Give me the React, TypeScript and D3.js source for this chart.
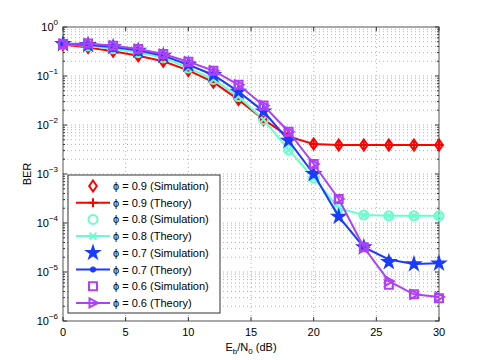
import React from 'react';
import * as d3 from 'd3';

// Eb/N0 in dB
const snr = [0, 2, 4, 6, 8, 10, 12, 14, 16, 18, 20, 22, 24, 26, 28, 30];

// theory curves
const phi09Theory = [0.44, 0.38, 0.32, 0.26, 0.2, 0.13, 0.075, 0.033, 0.013, 0.0058, 0.0041, 0.0039, 0.0039, 0.0039, 0.0039, 0.0039];
const phi08Theory = [0.45, 0.41, 0.36, 0.3, 0.235, 0.145, 0.085, 0.038, 0.013, 0.0031, 0.00083, 0.0002, 0.000145, 0.00014, 0.00014, 0.00014];
const phi07Theory = [0.45, 0.43, 0.39, 0.33, 0.26, 0.17, 0.105, 0.048, 0.019, 0.0048, 0.001, 0.000135, 0.000032, 0.000018, 0.0000145, 0.000015];
const phi06Theory = [0.45, 0.46, 0.415, 0.355, 0.28, 0.196, 0.128, 0.066, 0.025, 0.0073, 0.0016, 0.00031, 0.000032, 0.0000065, 0.0000035, 0.0000031];

// simulation points
const phi09Sim = [0.44, 0.38, 0.32, 0.26, 0.2, 0.13, 0.075, 0.033, 0.013, 0.0058, 0.0041, 0.0039, 0.0039, 0.0039, 0.0039, 0.0039];
const phi08Sim = [0.45, 0.41, 0.36, 0.3, 0.235, 0.145, 0.085, 0.038, 0.013, 0.0031, 0.00083, 0.0002, 0.000145, 0.00014, 0.00014, 0.00014];
const phi07Sim = [0.45, 0.43, 0.39, 0.33, 0.26, 0.17, 0.105, 0.048, 0.019, 0.0048, 0.001, 0.000135, 0.000032, 0.000016, 0.0000145, 0.000015];
const phi06Sim = [0.45, 0.46, 0.415, 0.355, 0.28, 0.196, 0.128, 0.066, 0.025, 0.0073, 0.0016, 0.00031, 0.000032, 0.0000055, 0.0000035, 0.0000029];

const xTicks = [0, 5, 10, 15, 20, 25, 30];
const yExps = [0, -1, -2, -3, -4, -5, -6];

const width = 485;
const height = 360;
const margin = { top: 27, right: 46, bottom: 39, left: 63 };

const red = '#ff0000';
const cyan = '#66ffcc';
const blue = '#1a3cff';
const purple = '#b040f5';

type Mk = 'diamond' | 'plus' | 'circle' | 'x' | 'star' | 'asterisk' | 'square' | 'tri';

const markerPath = (m: Mk) => {
  switch (m) {
    case 'diamond': return 'M0,-5.5L3.8,0L0,5.5L-3.8,0Z';
    case 'plus': return 'M-4.5,0H4.5M0,-4.5V4.5';
    case 'circle': return d3.symbol(d3.symbolCircle, 64)()!;
    case 'x': return 'M-3.5,-3.5L3.5,3.5M-3.5,3.5L3.5,-3.5';
    case 'star': return d3.symbol(d3.symbolStar, 42)()!;
    case 'asterisk': return d3.symbol(d3.symbolAsterisk, 26)()!;
    case 'square': return 'M-4,-4H4V4H-4Z';
    case 'tri': return 'M-3.5,-4.5L5,0L-3.5,4.5Z';
  }
};

const series = [
  { label: 'ϕ = 0.9 (Simulation)', values: phi09Sim, color: red, marker: 'diamond' as Mk, line: false, fill: false },
  { label: 'ϕ = 0.9 (Theory)', values: phi09Theory, color: red, marker: 'plus' as Mk, line: true, fill: false },
  { label: 'ϕ = 0.8 (Simulation)', values: phi08Sim, color: cyan, marker: 'circle' as Mk, line: false, fill: false },
  { label: 'ϕ = 0.8 (Theory)', values: phi08Theory, color: cyan, marker: 'x' as Mk, line: true, fill: false },
  { label: 'ϕ = 0.7 (Simulation)', values: phi07Sim, color: blue, marker: 'star' as Mk, line: false, fill: true },
  { label: 'ϕ = 0.7 (Theory)', values: phi07Theory, color: blue, marker: 'asterisk' as Mk, line: true, fill: false },
  { label: 'ϕ = 0.6 (Simulation)', values: phi06Sim, color: purple, marker: 'square' as Mk, line: false, fill: false },
  { label: 'ϕ = 0.6 (Theory)', values: phi06Theory, color: purple, marker: 'tri' as Mk, line: true, fill: false },
];

const Marker = ({ m, color, fill, x, y }: { m: Mk; color: string; fill: boolean; x: number; y: number }) => (
  <path
    d={markerPath(m)}
    transform={`translate(${x},${y})`}
    fill={fill ? color : 'none'}
    stroke={color}
    strokeWidth={m === 'asterisk' ? 2.5 : 2}
  />
);

export default function App() {
  const x = d3.scaleLinear().domain([0, 30]).range([margin.left, width - margin.right]);
  const y = d3.scaleLog().domain([1e-6, 1]).range([height - margin.bottom, margin.top]);
  const line = d3.line<number>().x((_, i) => x(snr[i])).y((d) => y(d));

  const minor: number[] = [];
  for (let e = -6; e < 0; e++) for (let k = 2; k <= 9; k++) minor.push(k * Math.pow(10, e));

  const x0 = margin.left, x1 = width - margin.right, y0 = margin.top, y1 = height - margin.bottom;
  const font = 'Liberation Sans, Arial, Helvetica, sans-serif';

  const legX = 68, legY = 175, legW = 152, legH = 138, rowH = 16.7;

  return (
    <div style={{ position: 'absolute', left: 0, top: 0 }}>
      <svg width={width} height={height} style={{ display: 'block', background: '#fff' }} fontFamily={font}>
        <rect x={0} y={0} width={width} height={height} fill="#fff" />
        {/* grid */}
        <g stroke="#a0a0a0" strokeWidth={0.8} strokeDasharray="1 3" fill="none">
          {xTicks.slice(1, -1).map((t) => (
            <line key={'gx' + t} x1={x(t)} x2={x(t)} y1={y0} y2={y1} />
          ))}
          {minor.concat(yExps.slice(1, -1).map((e) => Math.pow(10, e))).map((v, i) => (
            <line key={'gy' + i} x1={x0} x2={x1} y1={y(v)} y2={y(v)} />
          ))}
        </g>
        {/* axes box and ticks */}
        <g stroke="#333" strokeWidth={1} fill="none">
          <rect x={x0} y={y0} width={x1 - x0} height={y1 - y0} stroke="#555" />
          {xTicks.map((t) => (
            <g key={'tx' + t}>
              <line x1={x(t)} x2={x(t)} y1={y1} y2={y1 - 4} />
              <line x1={x(t)} x2={x(t)} y1={y0} y2={y0 + 4} />
            </g>
          ))}
          {yExps.map((e) => (
            <g key={'ty' + e}>
              <line x1={x0} x2={x0 + 4} y1={y(Math.pow(10, e))} y2={y(Math.pow(10, e))} />
              <line x1={x1} x2={x1 - 4} y1={y(Math.pow(10, e))} y2={y(Math.pow(10, e))} />
            </g>
          ))}
          {minor.map((v, i) => (
            <g key={'tm' + i}>
              <line x1={x0} x2={x0 + 2} y1={y(v)} y2={y(v)} />
              <line x1={x1} x2={x1 - 2} y1={y(v)} y2={y(v)} />
            </g>
          ))}
        </g>
        {/* tick labels */}
        <g fontSize={11} fill="#000">
          {xTicks.map((t) => (
            <text key={'lx' + t} x={x(t)} y={y1 + 15} textAnchor="middle">{t}</text>
          ))}
          {yExps.map((e) => (
            <text key={'ly' + e} x={x0 - 5} y={y(Math.pow(10, e)) + 4} textAnchor="end">
              10<tspan fontSize={8} dy={-6}>{e === 0 ? '0' : '\u2212' + -e}</tspan>
            </text>
          ))}
        </g>
        {/* axis labels */}
        <text x={(x0 + x1) / 2} y={351} textAnchor="middle" fontSize={11}>
          E<tspan fontSize={8} dy={3}>b</tspan><tspan dy={-3}>/N</tspan><tspan fontSize={8} dy={3}>0</tspan><tspan dy={-3}> (dB)</tspan>
        </text>
        <text transform={`translate(31,${(y0 + y1) / 2}) rotate(-90)`} textAnchor="middle" fontSize={11}>BER</text>
        {/* data */}
        <g>
          {series.map((s, si) => (
            <g key={'s' + si}>
              {s.line && <path d={line(s.values)!} fill="none" stroke={s.color} strokeWidth={2} />}
              {s.values.map((v, i) => (
                <Marker key={i} m={s.marker} color={s.color} fill={s.fill} x={x(snr[i])} y={y(v)} />
              ))}
            </g>
          ))}
        </g>
        {/* legend */}
        <g>
          <rect x={legX} y={legY} width={legW} height={legH} fill="#fff" stroke="#333" strokeWidth={1} />
          {series.map((s, i) => {
            const cy = legY + 11 + rowH * i;
            return (
              <g key={'lg' + i}>
                {s.line && <line x1={76} x2={110} y1={cy} y2={cy} stroke={s.color} strokeWidth={2} />}
                <Marker m={s.marker} color={s.color} fill={s.fill} x={93} y={cy} />
                <text x={113} y={cy + 4} fontSize={11}>{s.label}</text>
              </g>
            );
          })}
        </g>
      </svg>
    </div>
  );
}
